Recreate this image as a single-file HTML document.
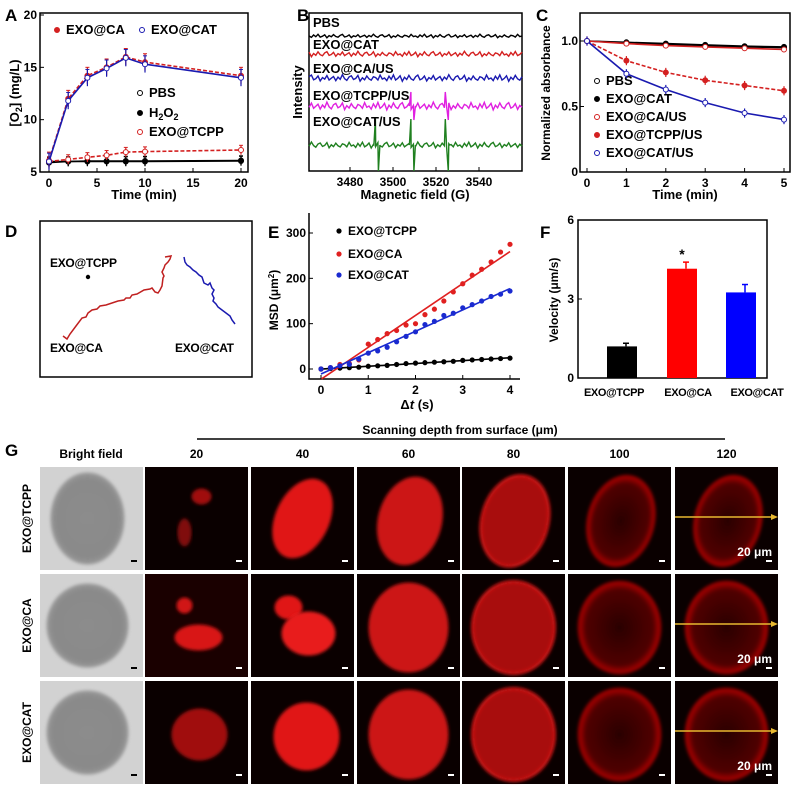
<!DOCTYPE html>
<html><head><meta charset="utf-8"><style>
html,body{margin:0;padding:0;background:#fff;}
svg{display:block;font-family:"Liberation Sans",Arial,sans-serif;font-weight:bold;}
</style></head><body>
<svg id="fig" width="799" height="794" viewBox="0 0 799 794" xmlns="http://www.w3.org/2000/svg">
<defs>
<radialGradient id="bf" cx="50%" cy="50%" r="50%"><stop offset="0" stop-color="#8c8c8c"/><stop offset="0.85" stop-color="#8a8a8a"/><stop offset="1" stop-color="#9a9a9a"/></radialGradient>
<radialGradient id="rimg" cx="50%" cy="50%" r="50%"><stop offset="0" stop-color="#2a0000"/><stop offset="0.8" stop-color="#500000"/><stop offset="0.95" stop-color="#a00000"/><stop offset="1" stop-color="#700000"/></radialGradient>
<filter id="blur1"><feGaussianBlur stdDeviation="1.5"/></filter>
</defs>
<g id="root"></g>
</svg>
<script>
// ---------- data ----------
const aTime=[0,2,4,6,8,10,20];
const aCA=[6.1,12.0,14.2,15.0,16.0,15.5,14.2];
const aCAT=[6.0,11.8,14.0,14.9,15.9,15.3,14.0];
const aPBS=[6.0,6.0,6.05,6.05,6.05,6.05,6.1];
const aH2O2=[5.9,6.0,6.0,6.0,6.0,6.0,6.05];
const aTCPP=[6.0,6.2,6.4,6.6,6.9,6.95,7.1];
const aXTicks=[0,5,10,15,20];
const aYTicks=[5,10,15,20];

const bTicks=[3480,3500,3520,3540];
const bNoise=[0,1.2,-0.8,0.6,-1.4,0.9,0.2,-1.0,1.5,-0.3,0.7,-1.2,0.4,1.0,-0.6,-1.3,0.8,0.3,-0.9,1.3,-0.2,0.5,-1.1,0.9,0.1,-0.7,1.2,-0.4,0.6,-1.5,0.3,1.1,-0.5,-1.0,0.7,0.2,-1.2,1.4,-0.1,0.8,-0.9,0.4,1.0,-0.6,-0.2,0.9,-1.3,0.5];
const bBase=[36,54,78,106,145];
const bAmp=[1.2,1.8,2.2,2.6,2.0];
const bPeakAmp=[0,0,0,14,26];
const bPeaks=[3492.5,3509,3525];
const bLabels=["PBS","EXO@CAT","EXO@CA/US","EXO@TCPP/US","EXO@CAT/US"];
const bColors=["#000","#d42020","#1a1ab0","#e020e0","#208020"];

const cTime=[0,1,2,3,4,5];
const cPBS=[1.0,0.99,0.98,0.97,0.96,0.955];
const cCAT=[1.0,0.985,0.975,0.965,0.955,0.95];
const cCAUS=[1.0,0.98,0.965,0.955,0.945,0.935];
const cTCPPUS=[1.0,0.85,0.76,0.70,0.66,0.62];
const cCATUS=[1.0,0.75,0.63,0.53,0.45,0.40];
const cYTicks=[0,0.5,1.0];

const eDt=[0,0.2,0.4,0.6,0.8,1.0,1.2,1.4,1.6,1.8,2.0,2.2,2.4,2.6,2.8,3.0,3.2,3.4,3.6,3.8,4.0];
const eTCPP=[0,1,2,3,4,6,7,8,10,12,13,14,15,16,17,19,20,21,22,23,24];
const eCA=[0,3,10,12,20,55,65,78,85,97,100,120,132,150,170,188,207,220,236,258,275];
const eCAT=[0,3,7,10,22,35,40,48,60,72,82,98,105,118,123,135,142,150,160,165,172];
const eXTicks=[0,1,2,3,4];
const eYTicks=[0,100,200,300];

const fCats=["EXO@TCPP","EXO@CA","EXO@CAT"];
const fVals=[1.2,4.15,3.25];
const fErr=[0.12,0.25,0.3];
const fColors=["#000","#ff0000","#0000ff"];
const fYTicks=[0,3,6];

// ---------- helpers ----------
const NS="http://www.w3.org/2000/svg";
const root=document.getElementById('root');
function mk(tag,attrs,parent){const e=document.createElementNS(NS,tag);for(const k in attrs)e.setAttribute(k,attrs[k]);(parent||root).appendChild(e);return e;}
function txt(x,y,s,size,anchor,parent,extra){const e=mk('text',Object.assign({x:x,y:y,'font-size':size,'text-anchor':anchor||'start'},extra||{}),parent);e.textContent=s;return e;}
function lin(x0,x1,p0,p1){return v=>p0+(v-x0)/(x1-x0)*(p1-p0);}
function poly(xs,ys,fx,fy){return xs.map((v,i)=>fx(v).toFixed(1)+','+fy(ys[i]).toFixed(1)).join(' ');}

// ---------- Panel A ----------
{
const g=mk('g',{});


const X=lin(0,20,49,241),Y=lin(5,20,172,15);
const lab=txt(5,21,'A',17,'start',g);


const fr=mk('rect',{x:40,y:13,width:208,height:159,fill:'none',stroke:'#000','stroke-width':1.5},g);


aXTicks.forEach(t=>{mk('line',{x1:X(t),x2:X(t),y1:172,y2:168,stroke:'#000'},g);const e=txt(X(t),187,String(t),12,'middle',g);});
aYTicks.forEach(t=>{mk('line',{x1:40,x2:44,y1:Y(t),y2:Y(t),stroke:'#000'},g);const e=txt(37,Y(t)+4,String(t),12,'end',g);});
const xt=txt(144,199,'Time (min)',13,'middle',g);


const yt=mk('text',{x:0,y:0,'font-size':13,'text-anchor':'middle',transform:'translate(19,93) rotate(-90)'},g);
yt.innerHTML='[O<tspan font-size="9" dy="3">2</tspan><tspan dy="-3">] (mg/L)</tspan>';


const series=[[aPBS,'#000','none',false],[aH2O2,'#000','none',true],[aTCPP,'#d42020','4,2',false],[aCA,'#d42020','4,2',true],[aCAT,'#1a1ab0','none',false]];
series.forEach((s,si)=>{
 const l=mk('polyline',{points:poly(aTime,s[0],X,Y),fill:'none',stroke:s[1],'stroke-width':1.6,'stroke-dasharray':s[2]},g);
 
 
 aTime.forEach((t,i)=>{
  const y=Y(s[0][i]);const err=si>=3?0.8:0.45;
  mk('line',{x1:X(t),x2:X(t),y1:Y(s[0][i]+err),y2:Y(s[0][i]-err),stroke:s[1],'stroke-width':1.2},g);
  mk('line',{x1:X(t)-2,x2:X(t)+2,y1:Y(s[0][i]+err),y2:Y(s[0][i]+err),stroke:s[1]},g);
  const c=mk('circle',{cx:X(t),cy:y,r:2.5,fill:s[3]?s[1]:'#fff',stroke:s[1],'stroke-width':1},g);
  
  
 });
});
const leg=[[57,34,'#d42020',true,'EXO@CA'],[142,34,'#1a1ab0',false,'EXO@CAT'],[140,97,'#000',false,'PBS'],[140,117,'#000',true,'H2O2'],[140,136,'#d42020',false,'EXO@TCPP']];
leg.forEach(L=>{const c=mk('circle',{cx:L[0],cy:L[1]-4,r:2.5,fill:L[3]?L[2]:'#fff',stroke:L[2]},g);
 const e=txt(L[0]+9,L[1],'',13,'start',g);
 if(L[4]==='H2O2')e.innerHTML='H<tspan font-size="9" dy="3">2</tspan><tspan dy="-3">O</tspan><tspan font-size="9" dy="3">2</tspan>';else e.textContent=L[4];
 });
}

// ---------- Panel B ----------
{
const g=mk('g',{});


const X=lin(3480,3540,350,479);
const lab=txt(297,21,'B',17,'start',g);


const fr=mk('rect',{x:309,y:13,width:213,height:158,fill:'none',stroke:'#000','stroke-width':1.5},g);


bTicks.forEach(t=>{mk('line',{x1:X(t),x2:X(t),y1:171,y2:167,stroke:'#000'},g);const e=txt(X(t),186,String(t),12,'middle',g);});
const xt=txt(415,199,'Magnetic field (G)',13,'middle',g);


const yt=txt(0,0,'Intensity',13,'middle',g,{transform:'translate(302,92) rotate(-90)'});


const x0=3461,x1=3560;
bBase.forEach((b,si)=>{
 const pts=[];const n=bNoise.length*2;
 for(let i=0;i<=n;i++){
  const f=x0+(x1-x0)*i/n;
  let y=b+bNoise[(i+si*7)%bNoise.length]*bAmp[si];
  pts.push([X(f),y]);
 }
 bPeaks.forEach((p,pi)=>{if(si===3&&pi===0)return;if(bPeakAmp[si]===0)return;
  const px=X(p);pts.push([px-3,b],[px-1.5,b-bPeakAmp[si]],[px+1.5,b+bPeakAmp[si]],[px+3,b]);});
 pts.sort((a,c)=>a[0]-c[0]);
 const l=mk('polyline',{points:pts.map(q=>q[0].toFixed(1)+','+q[1].toFixed(1)).join(' '),fill:'none',stroke:bColors[si],'stroke-width':1.4},g);
 
 
 const e=txt(313,[27,49,73,100,126][si],bLabels[si],13,'start',g);
 
 
});
}

// ---------- Panel C ----------
{
const g=mk('g',{});


const X=lin(0,5,587,784),Y=lin(0,1,172,41);
const lab=txt(536,21,'C',17,'start',g);


const fr=mk('rect',{x:580,y:13,width:210,height:159,fill:'none',stroke:'#000','stroke-width':1.5},g);


cTime.forEach(t=>{mk('line',{x1:X(t),x2:X(t),y1:172,y2:168,stroke:'#000'},g);const e=txt(X(t),187,String(t),12,'middle',g);});
cYTicks.forEach(t=>{mk('line',{x1:580,x2:584,y1:Y(t),y2:Y(t),stroke:'#000'},g);const e=txt(578,Y(t)+4,t===0?'0':t.toFixed(1),12,'end',g);});
const xt=txt(685,199,'Time (min)',13,'middle',g);


const yt=txt(0,0,'Normalized absorbance',12,'middle',g,{transform:'translate(550,93) rotate(-90)'});


const series=[[cPBS,'#000','none',false,'PBS'],[cCAT,'#000','none',true,'EXO@CAT'],[cCAUS,'#d42020','none',false,'EXO@CA/US'],[cTCPPUS,'#d42020','4,2',true,'EXO@TCPP/US'],[cCATUS,'#1a1ab0','none',false,'EXO@CAT/US']];
series.forEach((s,si)=>{
 const l=mk('polyline',{points:poly(cTime,s[0],X,Y),fill:'none',stroke:s[1],'stroke-width':1.6,'stroke-dasharray':s[2]},g);
 
 
 cTime.forEach((t,i)=>{
  const err=si>=3?0.035:0.015;
  mk('line',{x1:X(t),x2:X(t),y1:Y(s[0][i]+err),y2:Y(s[0][i]-err),stroke:s[1],'stroke-width':1.2},g);
  const c=mk('circle',{cx:X(t),cy:Y(s[0][i]),r:2.5,fill:s[3]?s[1]:'#fff',stroke:s[1]},g);
  
  
 });
 const c=mk('circle',{cx:597,cy:[85,103,121,139,157][si]-4,r:2.5,fill:s[3]?s[1]:'#fff',stroke:s[1]},g);
 
 
 const e=txt(606,[85,103,121,139,157][si],s[4],13,'start',g);
 
 
});
}

// ---------- Panel D ----------
{
const g=mk('g',{});


const lab=txt(5,237,'D',17,'start',g);


const fr=mk('rect',{x:40,y:221,width:212,height:156,fill:'none',stroke:'#000','stroke-width':1.5},g);


const ca=mk('polyline',{points:'63,336 67,339 70,334 76,326 82,318 86,317 88,313 92,310 97,309 100,306 106,305 112,303 118,301 124,300 126,298 130,298 132,295 137,294 144,290 150,289 152,288 155,292 158,293 160,290 162,286 163,278 164,276 162,272 164,268 165,265 168,262 170,259 171,256 165,257',fill:'none',stroke:'#c02020','stroke-width':1.5},g);


const cat=mk('polyline',{points:'184,257 185,262 187,265 190,267 193,270 196,272 199,275 202,277 204,283 208,285 210,283 212,288 214,290 212,294 214,298 213,301 216,304 218,307 222,310 226,313 230,316 232,320 235,324',fill:'none',stroke:'#1a1ab0','stroke-width':1.5},g);


const dot=mk('circle',{cx:88,cy:277,r:2.2,fill:'#000'},g);


[[50,267,'EXO@TCPP'],[50,352,'EXO@CA'],[175,352,'EXO@CAT']].forEach(L=>{const e=txt(L[0],L[1],L[2],12,'start',g,{'letter-spacing':'-0.3'});});
}

// ---------- Panel E ----------
{
const g=mk('g',{});


const X=lin(0,4,321,510),Y=lin(0,300,369,233);
const lab=txt(268,238,'E',17,'start',g);


const ax=mk('path',{d:'M309,213 L309,379 L520,379',fill:'none',stroke:'#000','stroke-width':1.5},g);


eXTicks.forEach(t=>{mk('line',{x1:X(t),x2:X(t),y1:379,y2:375,stroke:'#000'},g);const e=txt(X(t),394,String(t),12,'middle',g);});
eYTicks.forEach(t=>{mk('line',{x1:309,x2:313,y1:Y(t),y2:Y(t),stroke:'#000'},g);const e=txt(306,Y(t)+4,String(t),12,'end',g);});
const xt=mk('text',{x:417,y:409,'font-size':13,'text-anchor':'middle'},g);
xt.innerHTML='Δ<tspan font-style="italic">t</tspan> (s)';


const yt=mk('text',{x:0,y:0,'font-size':12,'text-anchor':'middle',transform:'translate(278,300) rotate(-90)'},g);
yt.innerHTML='MSD (μm<tspan font-size="8" dy="-4">2</tspan><tspan dy="4">)</tspan>';


function fit(xs,ys){const n=xs.length;let sx=0,sy=0,sxx=0,sxy=0;xs.forEach((x,i)=>{sx+=x;sy+=ys[i];sxx+=x*x;sxy+=x*ys[i];});const m=(n*sxy-sx*sy)/(n*sxx-sx*sx);return [m,(sy-m*sx)/n];}
[[eTCPP,'#000','EXO@TCPP'],[eCA,'#e02020','EXO@CA'],[eCAT,'#1a2ad0','EXO@CAT']].forEach((s,si)=>{
 const f=fit(eDt,s[0]);
 const x0=Math.max(0,(-22-f[1])/f[0]);
 const l=mk('line',{x1:X(x0),y1:Y(f[1]+f[0]*x0),x2:X(4),y2:Y(f[1]+f[0]*4),stroke:s[1],'stroke-width':1.6},g);
 
 
 eDt.forEach((t,i)=>{const c=mk('circle',{cx:X(t),cy:Y(s[0][i]),r:2.6,fill:s[1]},g);});
 const c=mk('circle',{cx:339,cy:[235,258,279][si]-4,r:2.6,fill:s[1]},g);
 
 
 const e=txt(348,[235,258,279][si],s[2],12,'start',g);
 
 
});
}

// ---------- Panel F ----------
{
const g=mk('g',{});


const Y=lin(0,6,378,220);
const lab=txt(540,238,'F',17,'start',g);


const fr=mk('rect',{x:578,y:220,width:189,height:158,fill:'none',stroke:'#000','stroke-width':1.5},g);


fYTicks.forEach(t=>{mk('line',{x1:578,x2:582,y1:Y(t),y2:Y(t),stroke:'#000'},g);const e=txt(574,Y(t)+4,String(t),12,'end',g);});
const yt=txt(0,0,'Velocity (μm/s)',12,'middle',g,{transform:'translate(558,300) rotate(-90)'});


const cx=[622,682,741];
const lx=[614,688,757];
fCats.forEach((c,i)=>{
 const b=mk('rect',{x:cx[i]-15,y:Y(fVals[i]),width:30,height:378-Y(fVals[i]),fill:fColors[i]},g);
 
 
 mk('line',{x1:cx[i]+4,x2:cx[i]+4,y1:Y(fVals[i]),y2:Y(fVals[i]+fErr[i]),stroke:fColors[i],'stroke-width':1.5},g);
 mk('line',{x1:cx[i]+1,x2:cx[i]+7,y1:Y(fVals[i]+fErr[i]),y2:Y(fVals[i]+fErr[i]),stroke:fColors[i],'stroke-width':1.5},g);
 const e=txt(lx[i],396,c,11,'middle',g,{'letter-spacing':'-0.4'});
 
 
});
const st=txt(682,Y(fVals[1]+fErr[1])-3,'*',14,'middle',g);


}

// ---------- Panel G ----------
{
const g=mk('g',{});


const colX=[40,145,251,357,462,568,675],rowY=[467,574,681],W=103,H=103;
const depths=["20","40","60","80","100","120"];
const rows=["EXO@TCPP","EXO@CA","EXO@CAT"];
const lab=txt(5,456,'G',17,'start',g);


const t1=txt(460,434,'Scanning depth from surface (μm)',12,'middle',g);


const ln=mk('line',{x1:197,x2:725,y1:439,y2:439,stroke:'#000','stroke-width':1.5},g);


const bfh=txt(91,458,'Bright field',12,'middle',g);


depths.forEach((d,i)=>{const e=txt(colX[i+1]+W/2,458,d,12,'middle',g);});
const looks=[null,[22,30,'#b01010',0],[33,38,'#e01818',0],[40,45,'#cc1414',0],[41,46,'#a81010',1],[42,47,'#4a0000',2],[42,47,'#420000',2]];
rows.forEach((r,ri)=>{
 const y0=rowY[ri];
 const rl=txt(0,0,r,12,'middle',g,{transform:'translate('+(31)+','+(y0+H/2)+') rotate(-90)'});
 
 
 for(let ci=0;ci<7;ci++){
  const x0=colX[ci];
  const cxm=x0+W/2,cym=y0+H/2;
  if(ci===0){
   const bg=mk('rect',{x:x0,y:y0,width:W,height:H,fill:'#d2d2d2'},g);
   
   
   mk('ellipse',{cx:cxm-4,cy:cym,rx:ri===0?37:41,ry:ri===0?46:42,fill:'url(#bf)',filter:'url(#blur1)'},g);
  } else {
   const bg=mk('rect',{x:x0,y:y0,width:W,height:H,fill:ri===1&&ci===1?'#1a0000':'#0a0000'},g);
   
   
   const L=looks[ci];
   if(ci===1){
    if(ri===0){mk('ellipse',{cx:cxm+5,cy:cym-22,rx:10,ry:8,fill:'#a01010',filter:'url(#blur1)'},g);mk('ellipse',{cx:cxm-12,cy:cym+14,rx:7,ry:14,fill:'#801010',filter:'url(#blur1)'},g);}
    else if(ri===1){mk('ellipse',{cx:cxm-12,cy:cym-20,rx:8,ry:8,fill:'#d01515',filter:'url(#blur1)'},g);mk('ellipse',{cx:cxm+2,cy:cym+12,rx:24,ry:13,fill:'#d81616',filter:'url(#blur1)'},g);}
    else {mk('ellipse',{cx:cxm+3,cy:cym+2,rx:28,ry:26,fill:'#a01010',filter:'url(#blur1)'},g);}
   } else if(ci===2){
    if(ri===0){mk('ellipse',{cx:cxm,cy:cym,rx:27,ry:42,fill:'#e01818',transform:'rotate(25 '+cxm+' '+cym+')',filter:'url(#blur1)'},g);}
    else if(ri===1){mk('ellipse',{cx:cxm-14,cy:cym-18,rx:14,ry:12,fill:'#e01818',filter:'url(#blur1)'},g);mk('ellipse',{cx:cxm+6,cy:cym+8,rx:27,ry:22,fill:'#e81a1a',filter:'url(#blur1)'},g);}
    else {mk('ellipse',{cx:cxm+4,cy:cym+4,rx:33,ry:34,fill:'#e01818',filter:'url(#blur1)'},g);}
   } else {
    const rx=L[0]-(ri===0?8:0),ry=L[1];
    const fill=L[3]===2?'url(#rimg)':L[2];
    mk('ellipse',{cx:cxm+(ri===0?2:0),cy:cym+2,rx:rx,ry:ry,fill:fill,stroke:L[3]===1?'#d01818':'none','stroke-width':3,filter:'url(#blur1)',transform:ri===0?'rotate(15 '+cxm+' '+cym+')':''},g);
   }
  }
  const sb=mk('rect',{x:x0+W-12,y:y0+H-10,width:6,height:2,fill:ci===0?'#000':'#fff'},g);
  
  
 }
 const ar=mk('line',{x1:675,x2:773,y1:y0+50,y2:y0+50,stroke:'#e8b830','stroke-width':1.6},g);
 
 
 mk('path',{d:'M778,'+(y0+50)+' L771,'+(y0+47)+' L771,'+(y0+53)+' Z',fill:'#e8b830'},g);
 const sbl=txt(772,y0+H-14,'20 μm',12,'end',g,{fill:'#fff'});
 
 
});
}
</script>
</body></html>
